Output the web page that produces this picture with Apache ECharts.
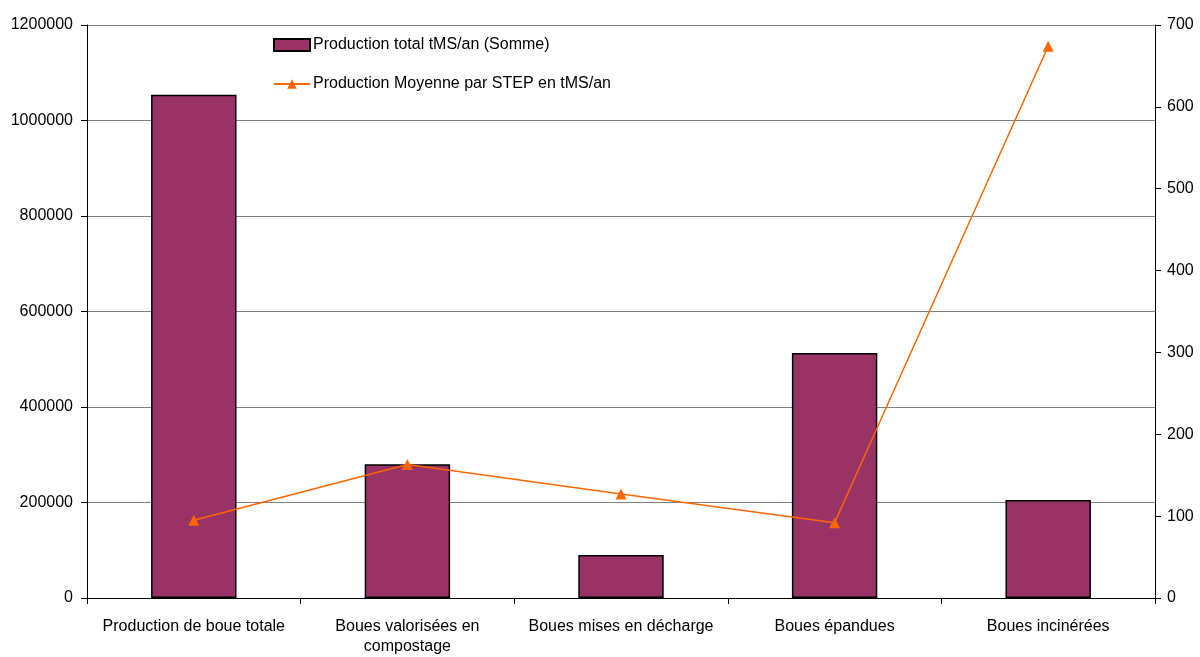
<!DOCTYPE html>
<html>
<head>
<meta charset="utf-8">
<script src="https://cdn.jsdelivr.net/npm/echarts@6/dist/echarts.min.js"></script>
<style>
  html, body { margin: 0; padding: 0; background: #fff; }
  #chart { width: 1200px; height: 657px; }
</style>
</head>
<body>
<div id="chart"></div>
<script>
// categories (x axis)
const categories = [
  'Production de boue totale',
  'Boues valorisées en\ncompostage',
  'Boues mises en décharge',
  'Boues épandues',
  'Boues incinérées'
];
// bars, left axis
const totalProduction = [1054000, 280000, 90000, 513000, 205000];
// line, right axis
const averagePerStep = [95, 163, 127, 92, 674];

const seriesNames = ['Production total tMS/an (Somme)', 'Production Moyenne par STEP en tMS/an'];

const chart = echarts.init(document.getElementById('chart'));
const font = 'Liberation Sans, Arial, sans-serif';
const plain = v => String(v);

chart.setOption({
  animation: false,
  textStyle: { fontFamily: font },
  legend: {
    left: 273,
    top: 37,
    padding: 0,
    orient: 'vertical',
    itemWidth: 36,
    itemHeight: 12,
    itemGap: 23,
    textStyle: { fontSize: 16, color: '#000', fontFamily: font, padding: [0, 0, 0, -2] },
    data: [
      { name: seriesNames[0], icon: 'rect' },
      { name: seriesNames[1] }
    ]
  },
  grid: { left: 87, right: 45, top: 25, bottom: 57, containLabel: false },
  xAxis: {
    type: 'category',
    data: categories,
    boundaryGap: true,
    axisLine: { lineStyle: { color: '#000', width: 1 } },
    axisTick: { show: true, length: 6, lineStyle: { color: '#000' } },
    axisLabel: { interval: 0, fontSize: 16, color: '#000', fontFamily: font, margin: 19, lineHeight: 20 }
  },
  yAxis: [
    {
      type: 'value',
      min: 0,
      max: 1200000,
      interval: 200000,
      axisLine: { show: true, lineStyle: { color: '#000' } },
      axisTick: { show: true, length: 6, lineStyle: { color: '#000' } },
      splitLine: { lineStyle: { color: '#808080', width: 1 } },
      axisLabel: { formatter: plain, fontSize: 16, color: '#000', fontFamily: font, margin: 14 }
    },
    {
      type: 'value',
      min: 0,
      max: 700,
      interval: 100,
      position: 'right',
      axisLine: { show: true, lineStyle: { color: '#000' } },
      axisTick: { show: true, length: 6, lineStyle: { color: '#000' } },
      splitLine: { show: false },
      axisLabel: { formatter: plain, fontSize: 16, color: '#000', fontFamily: font, margin: 12 }
    }
  ],
  series: [
    {
      name: seriesNames[0],
      type: 'bar',
      yAxisIndex: 0,
      data: totalProduction,
      barWidth: '40%',
      itemStyle: { color: '#993366', borderColor: '#000', borderWidth: 1.5 }
    },
    {
      name: seriesNames[1],
      type: 'line',
      yAxisIndex: 1,
      data: averagePerStep,
      symbol: 'triangle',
      symbolSize: 11,
      lineStyle: { color: '#FF6600', width: 1.5 },
      itemStyle: { color: '#FF6600' }
    }
  ]
});
</script>
</body>
</html>
